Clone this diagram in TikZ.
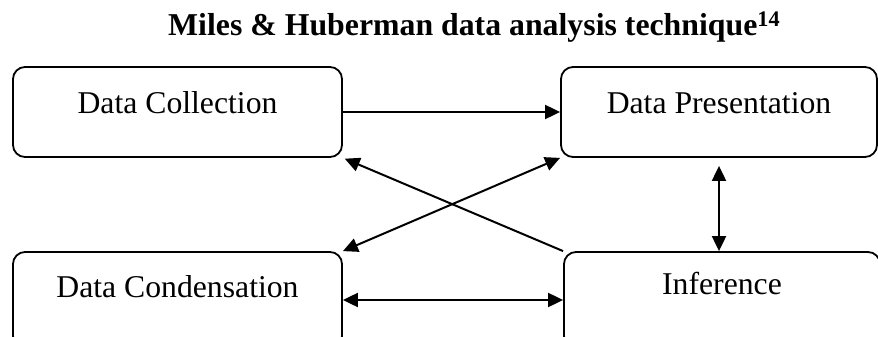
\documentclass[tikz,border=0pt]{standalone}
\usepackage{fontspec}
\setmainfont{Liberation Serif}
\usetikzlibrary{positioning}
\usetikzlibrary{arrows.meta}

\begin{document}
\begin{tikzpicture}[x=1pt,y=-1pt,
	box/.style={draw,line width=1.8pt,rounded corners=12pt,inner sep=0pt,font=\fontsize{31.7}{38}\selectfont},
	link/.style={line width=2pt,-{Triangle[length=15pt,width=14pt]}},
	both/.style={line width=2pt,{Triangle[length=15pt,width=14pt]}-{Triangle[length=15pt,width=14pt]}}]
	\useasboundingbox (0,0) rectangle (878,337);
	\clip (0,0) rectangle (878,337);
	\node[anchor=base west,inner sep=0pt,font=\fontsize{31.8}{38}\selectfont\bfseries] (title) at (168,36) {Miles \& Huberman data analysis technique\textsuperscript{14}};
	% boxes
	\node[box,minimum width=329pt,text height=46pt,text depth=44pt] (coll) at (177.5,112) {Data Collection};
	\node[box,minimum width=316pt,text height=46pt,text depth=44pt] (pres) at (719,112) {Data Presentation};
	\node[box,minimum width=329pt,text height=45pt,text depth=51pt] (cond) at (177.5,300) {Data Condensation};
	\node[box,minimum width=316pt,text height=42pt,text depth=54pt] (inf) at (722,300) {Inference};
	% links
	\draw[link] (coll.east) -- (pres.west);
	\draw[link,shorten >=2pt] (inf.north west) -- (coll.south east);
	\draw[both] (cond.north east) -- (pres.south west);
	\draw[both] (cond.east) -- (inf.west);
	\draw[both,shorten <=8pt] (pres.south) -- (pres.south |- inf.north);
\end{tikzpicture}
\end{document}
